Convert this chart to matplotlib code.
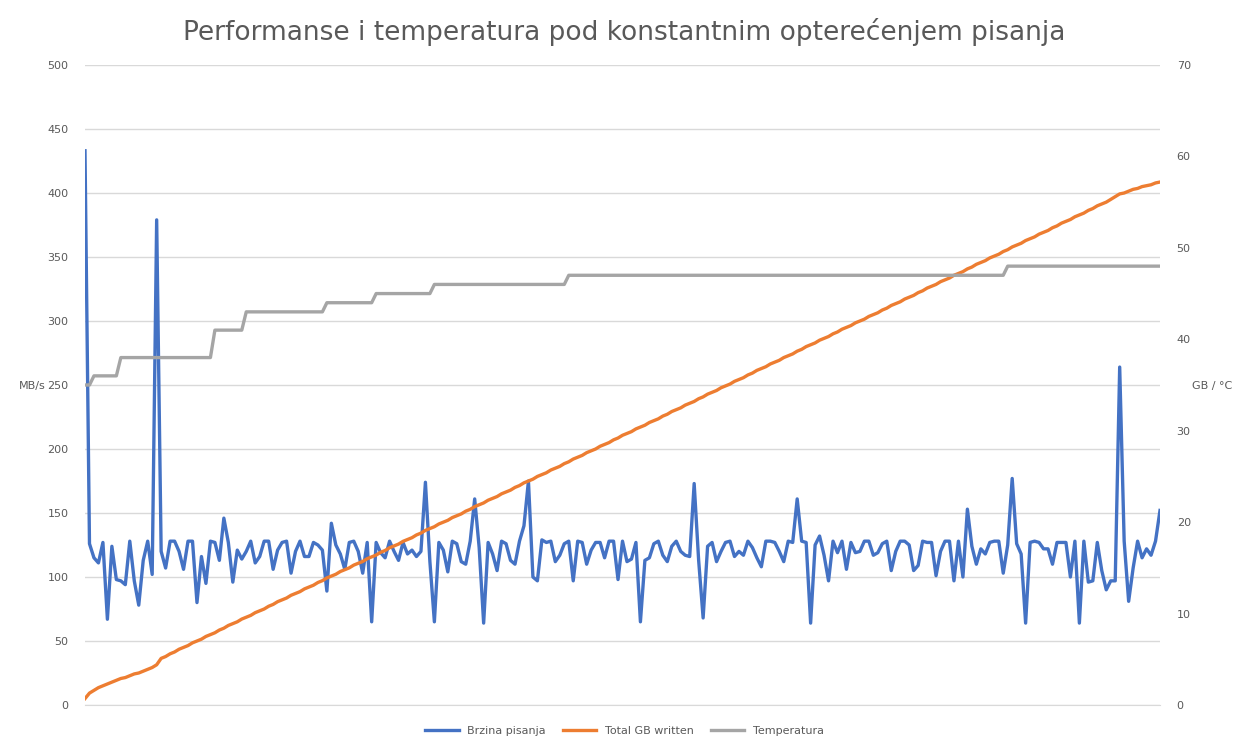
import matplotlib.pyplot as plt
import numpy as np

# Brzina pisanja (MB/s)
speed = [433, 126, 115, 111, 127, 67, 124, 98, 97, 94,
         128, 97, 78, 113, 128, 102, 379, 120, 107, 128,
         128, 120, 106, 128, 128, 80, 116, 95, 128, 127,
         113, 146, 127, 96, 121, 114, 120, 128, 111, 116,
         128, 128, 106, 121, 127, 128, 103, 120, 128, 116,
         116, 127, 125, 121, 89, 142, 125, 118, 106, 127,
         128, 120, 103, 127, 65, 127, 119, 115, 128, 120,
         113, 127, 118, 121, 116, 120, 174, 112, 65, 127,
         121, 104, 128, 126, 112, 110, 128, 161, 123, 64,
         127, 118, 105, 128, 126, 113, 110, 128, 140, 175,
         100, 97, 129, 127, 128, 112, 117, 126, 128, 97,
         128, 127, 110, 121, 127, 127, 115, 128, 128, 98,
         128, 112, 114, 127, 65, 113, 115, 126, 128, 117,
         112, 124, 128, 120, 117, 116, 173, 113, 68, 124,
         127, 112, 120, 127, 128, 116, 120, 117, 128, 123,
         115, 108, 128, 128, 127, 120, 112, 128, 127, 161,
         128, 127, 64, 125, 132, 117, 97, 128, 119, 128,
         106, 127, 119, 120, 128, 128, 117, 119, 126, 128,
         105, 120, 128, 128, 125, 105, 109, 128, 127, 127,
         101, 120, 128, 128, 97, 128, 100, 153, 124, 110,
         122, 118, 127, 128, 128, 103, 125, 177, 126, 118,
         64, 127, 128, 127, 122, 122, 110, 127, 127, 127,
         100, 128, 64, 128, 96, 97, 127, 105, 90, 97,
         264, 128, 81, 107, 128, 115, 122, 117, 128, 152]
# jedna tacka vise na pocetku poslednjeg bloka
speed = speed[:230] + [97] + speed[230:]

# Total GB written
total_gb = [0.7, 1.3, 1.6, 1.9, 2.1, 2.3, 2.5, 2.7, 2.9, 3.0,
            3.2, 3.4, 3.5, 3.7, 3.9, 4.1, 4.4, 5.1, 5.3, 5.6,
            5.8, 6.1, 6.3, 6.5, 6.8, 7.0, 7.2, 7.5, 7.7, 7.9,
            8.2, 8.4, 8.7, 8.9, 9.1, 9.4, 9.6, 9.8, 10.1, 10.3,
            10.5, 10.8, 11.0, 11.3, 11.5, 11.7, 12.0, 12.2, 12.4, 12.7,
            12.9, 13.1, 13.4, 13.6, 13.9, 14.1, 14.3, 14.6, 14.8, 15.0,
            15.3, 15.5, 15.7, 16.0, 16.2, 16.4, 16.7, 16.9, 17.2, 17.4,
            17.6, 17.9, 18.1, 18.3, 18.6, 18.8, 19.1, 19.3, 19.5, 19.8,
            20.0, 20.2, 20.5, 20.7, 20.9, 21.2, 21.4, 21.7, 21.9, 22.1,
            22.4, 22.6, 22.8, 23.1, 23.3, 23.5, 23.8, 24.0, 24.3, 24.5,
            24.7, 25.0, 25.2, 25.4, 25.7, 25.9, 26.1, 26.4, 26.6, 26.9,
            27.1, 27.3, 27.6, 27.8, 28.0, 28.3, 28.5, 28.7, 29.0, 29.2,
            29.5, 29.7, 29.9, 30.2, 30.4, 30.6, 30.9, 31.1, 31.3, 31.6,
            31.8, 32.1, 32.3, 32.5, 32.8, 33.0, 33.2, 33.5, 33.7, 34.0,
            34.2, 34.4, 34.7, 34.9, 35.1, 35.4, 35.6, 35.8, 36.1, 36.3,
            36.6, 36.8, 37.0, 37.3, 37.5, 37.7, 38.0, 38.2, 38.4, 38.7,
            38.9, 39.2, 39.4, 39.6, 39.9, 40.1, 40.3, 40.6, 40.8, 41.1,
            41.3, 41.5, 41.8, 42.0, 42.2, 42.5, 42.7, 42.9, 43.2, 43.4,
            43.7, 43.9, 44.1, 44.4, 44.6, 44.8, 45.1, 45.3, 45.6, 45.8,
            46.0, 46.3, 46.5, 46.7, 47.0, 47.2, 47.4, 47.7, 47.9, 48.2,
            48.4, 48.6, 48.9, 49.1, 49.3, 49.6, 49.8, 50.1, 50.3, 50.5,
            50.8, 51.0, 51.2, 51.5, 51.7, 51.9, 52.2, 52.4, 52.7, 52.9,
            53.1, 53.4, 53.6, 53.8, 54.1, 54.3, 54.6, 54.8, 55.0, 55.3,
            55.6, 55.9, 56.0, 56.2, 56.4, 56.5, 56.7, 56.8, 56.9, 57.1, 57.2]

# Temperatura (°C)
temperature = ([35] * 2 + [36] * 6 + [38] * 21 + [41] * 7 + [43] * 18 +
               [44] * 11 + [45] * 13 + [46] * 30 + [47] * 98 + [48] * 35)

n = min(len(speed), len(total_gb), len(temperature))
x = np.arange(n)

fig = plt.figure(figsize=(12.49, 7.51), dpi=100)
ax = fig.add_axes([85 / 1249, 46 / 751, 1075 / 1249, 640 / 751])
ax2 = ax.twinx()

blue, orange, gray = '#4472C4', '#ED7D31', '#A5A5A5'
l1, = ax.plot(x, speed[:n], color=blue, lw=2.4, label='Brzina pisanja')
l2, = ax2.plot(x, total_gb[:n], color=orange, lw=2.4, label='Total GB written')
l3, = ax2.plot(x, temperature[:n], color=gray, lw=2.4, label='Temperatura')

ax.set_xlim(0, n - 1)
ax.set_ylim(0, 500)
ax2.set_ylim(0, 70)
ax.set_yticks(range(0, 501, 50))
ax2.set_yticks(range(0, 71, 10))
ax.set_xticks([])
ax.grid(axis='y', color='#D9D9D9', lw=1)
ax.set_axisbelow(True)
for a in (ax, ax2):
    for s in a.spines.values():
        s.set_visible(False)
    a.tick_params(length=0, labelsize=8, labelcolor='#595959', pad=12)
ax.spines['bottom'].set_visible(True)
ax.spines['bottom'].set_color('#D9D9D9')

fig.text(32 / 1249, 1 - 386 / 751, 'MB/s', fontsize=8, color='#595959', ha='center', va='center')
fig.text(1212 / 1249, 1 - 386 / 751, 'GB / °C', fontsize=8, color='#595959', ha='center', va='center')
fig.text(0.5, 1 - 32 / 751, 'Performanse i temperatura pod konstantnim opterećenjem pisanja',
         fontsize=19, color='#595959', ha='center', va='center')

fig.legend(handles=[l1, l2, l3], loc='center', bbox_to_anchor=(0.5, 1 - 731 / 751),
           ncol=3, frameon=False, fontsize=8, labelcolor='#595959',
           handlelength=3, columnspacing=1.5)

fig.savefig('out.png', dpi=100)
